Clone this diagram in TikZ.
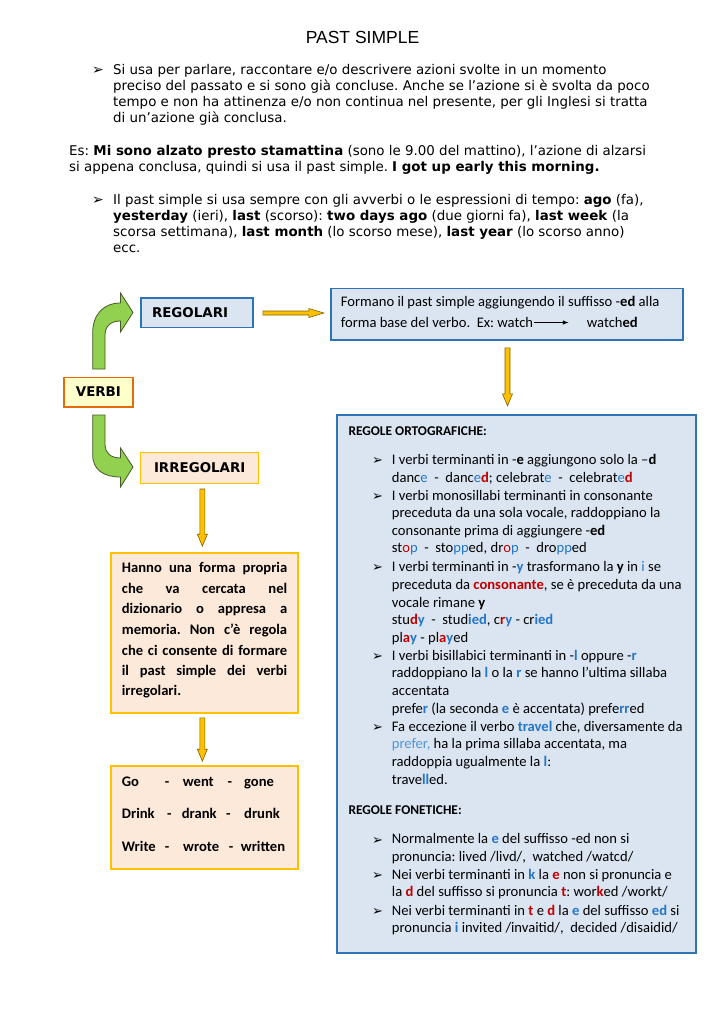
\documentclass[tikz,border=0pt]{standalone}
\usepackage{fontspec}
\setmainfont{Carlito}
\newfontfamily\vfont{DejaVu Sans}
\newfontfamily\afont{Liberation Sans}
\usetikzlibrary{calc,arrows.meta}
\frenchspacing
\definecolor{boxblue}{RGB}{219,229,241}
\definecolor{borderblue}{RGB}{46,116,181}
\definecolor{peach}{RGB}{253,233,217}
\definecolor{gold}{RGB}{255,192,0}
\definecolor{golddark}{RGB}{127,96,0}
\definecolor{lightyel}{RGB}{255,255,204}
\definecolor{orangeb}{RGB}{227,108,10}
\definecolor{greenf}{RGB}{146,208,80}
\definecolor{greend}{RGB}{70,90,40}
\definecolor{tb}{RGB}{36,118,200}
\definecolor{tl}{RGB}{80,150,215}
\definecolor{tr}{RGB}{192,0,0}
\newcommand\BLr[1]{\textcolor{tb}{#1}}
\newcommand\BLb[1]{\textcolor{tb}{\bfseries #1}}
\newcommand\REr[1]{\textcolor{tr}{#1}}
\newcommand\REb[1]{\textcolor{tr}{\bfseries #1}}
\newcommand\ydown[2]{\filldraw[yarr] ($(#1)+(-2.5,0)$) -- ($(#2)+(-2.5,-12)$) -- ($(#2)+(-5,-12)$) -- (#2) -- ($(#2)+(5,-12)$) -- ($(#2)+(2.5,-12)$) -- ($(#1)+(2.5,0)$) -- cycle;}
\begin{document}
\begin{tikzpicture}[x=1pt,y=-1pt,
  toptxt/.style={anchor=base west,inner sep=0pt,font=\vfont\fontsize{13.4}{16}\selectfont},
  caltxt/.style={anchor=base west,inner sep=0pt,font=\fontsize{14.6}{17.7}\selectfont},
  hdtxt/.style={anchor=base west,inner sep=0pt,font=\fontsize{13.4}{16}\selectfont\bfseries},
  lefttxt/.style={anchor=base west,inner sep=0pt,font=\fontsize{14.6}{17.7}\selectfont\bfseries},
  bul/.style={anchor=base west,inner sep=0pt,font=\vfont\fontsize{14}{14}\selectfont},
  bulb/.style={anchor=base west,inner sep=0pt,font=\vfont\fontsize{13}{13}\selectfont},
  lbl/.style={font=\vfont\fontsize{13.4}{16}\selectfont\bfseries,inner sep=0pt},
  bluebox/.style={draw=borderblue,fill=boxblue,line width=1.6pt},
  peachbox/.style={draw=gold,fill=peach,line width=1.6pt},
  yarr/.style={fill=gold,draw=golddark,line width=0.6pt,line join=miter},
  garr/.style={fill=greenf,draw=greend,line width=0.8pt},
]
\useasboundingbox[fill=white] (0,0) rectangle (725,1024);

% ---------- title and intro ----------
\node[anchor=base,inner sep=0pt,font=\afont\fontsize{17.5}{20}\selectfont] (title) at (362.5,43.3) {PAST SIMPLE};

\node[bul] (b1) at (92,75) {➢};
\node[toptxt] (t1) at (113,74.7) {Si usa per parlare, raccontare e/o descrivere azioni svolte in un momento};
\node[toptxt] (t2) at (113,90.7) {preciso del passato e si sono già concluse. Anche se l’azione si è svolta da poco};
\node[toptxt] (t3) at (113,106.7) {tempo e non ha attinenza e/o non continua nel presente, per gli Inglesi si tratta};
\node[toptxt] (t4) at (113,122.7) {di un’azione già conclusa.};

\node[toptxt] (e1) at (69,155.7) {Es: \textbf{Mi sono alzato presto stamattina} (sono le 9.00 del mattino), l’azione di alzarsi};
\node[toptxt] (e2) at (69,171.7) {si appena conclusa, quindi si usa il past simple. \textbf{I got up early this morning.}};

\node[bul] (b2) at (92,205) {➢};
\node[toptxt] (u1) at (113,204.7) {Il past simple si usa sempre con gli avverbi o le espressioni di tempo: \textbf{ago} (fa),};
\node[toptxt] (u2) at (113,220.7) {\textbf{yesterday} (ieri), \textbf{last} (scorso): \textbf{two days ago} (due giorni fa), \textbf{last week} (la};
\node[toptxt] (u3) at (113,236.7) {scorsa settimana), \textbf{last month} (lo scorso mese), \textbf{last year} (lo scorso anno)};
\node[toptxt] (u4) at (113,252.7) {ecc.};

% ---------- left diagram ----------
\node[draw=orangeb,fill=lightyel,line width=1.6pt,minimum width=68.7pt,minimum height=29.4pt,lbl] (verbi) at (98.4,392) {VERBI};
\node[bluebox,lbl,minimum height=29.6pt,text width=90pt,align=left,inner xsep=11pt] (reg) at (197,312.5) {REGOLARI};
\node[draw=gold,fill=peach,line width=1.4pt,lbl,minimum width=118pt,minimum height=30.6pt] (irr) at (199.7,468) {IRREGOLARI};

% green bent arrows
\filldraw[garr] (92.7,369) -- (92.7,333) .. controls (92.7,314) and (104,303) .. (120.5,303) -- (120.5,293) -- (133,312.5) -- (120.5,332) -- (120.5,321) .. controls (111,321) and (105,326) .. (105,335) -- (105,369) -- cycle;
\filldraw[garr] (92.7,415) -- (92.7,455) .. controls (92.7,470) and (104,477) .. (120.5,477) -- (120.5,487) -- (133,467) -- (120.5,448) -- (120.5,458) .. controls (110,458) and (105,452) .. (105,445) -- (105,415) -- cycle;

% Formano box
\node[bluebox,minimum width=352pt,minimum height=51.7pt] (form) at (506.7,314.2) {};
\node[caltxt] (f1) at (340.7,306.8) {Formano il past simple aggiungendo il suffisso -\textbf{ed} alla};
\node[caltxt] (f2) at (340.7,327.8) {forma base del verbo.~ Ex: watch};
\node[caltxt] (f3) at (586.7,327.8) {watch\textbf{ed}};
\coordinate (wa) at ($(f2.base east)+(0.5,-5.3)$);
\coordinate (wb) at ($(wa)+(35,0)$);
\draw[line width=0.9pt,-{Latex[length=6pt,width=4.5pt]}] (wa) -- (wb);

% yellow arrow regolari -> formano
\coordinate (ra) at ($(reg.east)+(9,0.5)$);
\coordinate (rb) at ($(reg.east)+(70,0.5)$);
\filldraw[yarr] ($(ra)+(0,-2)$) -- ($(rb)+(-15,-2)$) -- ($(rb)+(-15,-4.5)$) -- (rb) -- ($(rb)+(-15,4.5)$) -- ($(rb)+(-15,2)$) -- ($(ra)+(0,2)$) -- cycle;

% big rules box
\node[bluebox,minimum width=359pt,minimum height=538pt,line width=2pt] (rules) at (516.5,684) {};
\coordinate (da) at ($(form.south)+(0.8,7)$);
\coordinate (db) at ($(form.south)+(0.8,65)$);
\ydown{da}{db}

\node[hdtxt] (h1) at (348.3,435) {REGOLE ORTOGRAFICHE:};
\node[bulb] (ob1) at (372,464.8) {➢};
\node[caltxt] (o1) at (391.7,464.5) {I verbi terminanti in -\textbf{e} aggiungono solo la –\textbf{d}};
\node[caltxt] (o2) at (391.7,482.2) {danc\BLr{e}~~-~~danc\BLr{e}\REb{d}; celebrat\BLr{e}~~-~~celebrat\BLr{e}\REb{d}};
\node[bulb] (ob2) at (372,500.5) {➢};
\node[caltxt] (o3) at (391.7,500.2) {I verbi monosillabi terminanti in consonante};
\node[caltxt] (o4) at (391.7,517.8) {preceduta da una sola vocale, raddoppiano la};
\node[caltxt] (o5) at (391.7,535.5) {consonante prima di aggiungere -\textbf{ed}};
\node[caltxt] (o6) at (391.7,552.8) {st\REr{o}\BLr{p}~~-~~sto\BLr{pp}ed, dr\REr{o}\BLr{p}~~-~~dro\BLr{pp}ed};
\node[bulb] (ob3) at (372,571.5) {➢};
\node[caltxt] (o7) at (391.7,571.2) {I verbi terminanti in -\BLb{y} trasformano la \textbf{y} in \BLr{i} se};
\node[caltxt] (o8) at (391.7,589.2) {preceduta da \REb{consonante}, se è preceduta da una};
\node[caltxt] (o9) at (391.7,607.2) {vocale rimane \textbf{y}};
\node[caltxt] (o10) at (391.7,624.5) {stu\REb{d}\BLb{y}~~-~~stud\BLb{ied}, c\REb{r}\BLb{y} - cr\BLb{ied}};
\node[caltxt] (o11) at (391.7,642.2) {pl\REb{a}\BLb{y} - pl\REb{a}\BLb{y}ed};
\node[bulb] (ob4) at (372,660.5) {➢};
\node[caltxt] (o12) at (391.7,660.2) {I verbi bisillabici terminanti in -\BLb{l} oppure -\BLb{r}};
\node[caltxt] (o13) at (391.7,677.8) {raddoppiano la \BLb{l} o la \BLb{r} se hanno l’ultima sillaba};
\node[caltxt] (o14) at (391.7,695.5) {accentata};
\node[caltxt] (o15) at (391.7,713.5) {prefe\BLb{r} (la seconda \BLb{e} è accentata) prefe\BLb{rr}ed};
\node[bulb] (ob5) at (372,731.5) {➢};
\node[caltxt] (o16) at (391.7,731.2) {Fa eccezione il verbo \BLb{travel} che, diversamente da};
\node[caltxt] (o17) at (391.7,748.8) {\textcolor{tl}{prefer,} ha la prima sillaba accentata, ma};
\node[caltxt] (o18) at (391.7,766.8) {raddoppia ugualmente la \BLb{l}:};
\node[caltxt] (o19) at (391.7,784.5) {trave\BLb{ll}ed.};

\node[hdtxt] (h2) at (348.3,814.3) {REGOLE FONETICHE:};
\node[bulb] (fb1) at (372,844.1) {➢};
\node[caltxt] (p1) at (391.7,843.8) {Normalmente la \BLb{e} del suffisso -ed non si};
\node[caltxt] (p2) at (391.7,861.2) {pronuncia: lived /livd/,~ watched /watcd/};
\node[bulb] (fb2) at (372,879.8) {➢};
\node[caltxt] (p3) at (391.7,879.5) {Nei verbi terminanti in \BLb{k} la \REb{e} non si pronuncia e};
\node[caltxt] (p4) at (391.7,896.8) {la \REb{d} del suffisso si pronuncia \REb{t}: wor\REb{k}ed /workt/};
\node[bulb] (fb3) at (372,915.5) {➢};
\node[caltxt] (p5) at (391.7,915.2) {Nei verbi terminanti in \REb{t} e \REb{d} la \BLb{e} del suffisso \BLb{ed} si};
\node[caltxt] (p6) at (391.7,932.5) {pronuncia \BLb{i} invited /invaitid/,~ decided /disaidid/};

% irregular branch
\node[peachbox,minimum width=187.3pt,minimum height=160pt] (hanno) at (204.35,633) {};
\node[peachbox,minimum width=187.3pt,minimum height=103pt] (go) at (204.35,817.5) {};
\coordinate (ia) at ($(irr.south -| hanno.north)+(-2,5)$);
\coordinate (ib) at ($(hanno.north)+(-2,-6)$);
\ydown{ia}{ib}
\coordinate (ha) at ($(hanno.south)+(-2,4)$);
\coordinate (hb) at ($(go.north)+(-2,-4)$);
\ydown{ha}{hb}

\node[lefttxt] (k1) at (121.7,572.8) {\makebox[165.3pt][s]{Hanno una forma propria}};
\node[lefttxt] (k2) at (121.7,593.8) {\makebox[165.3pt][s]{che va cercata nel}};
\node[lefttxt] (k3) at (121.7,613.8) {\makebox[165.3pt][s]{dizionario o appresa a}};
\node[lefttxt] (k4) at (121.7,634.5) {\makebox[165.3pt][s]{memoria. Non c’è regola}};
\node[lefttxt] (k5) at (121.7,655.2) {\makebox[165.3pt][s]{che ci consente di formare}};
\node[lefttxt] (k6) at (121.7,675.2) {\makebox[165.3pt][s]{il past simple dei verbi}};
\node[lefttxt] (k7) at (121.7,695.2) {irregolari.};

\node[lefttxt] (g1) at (121.7,786.2) {\makebox[43pt][l]{Go}\makebox[18pt][l]{-}\makebox[44.8pt][l]{went}\makebox[16.5pt][l]{-}gone};
\node[lefttxt] (g2) at (121.7,818.5) {\makebox[45.3pt][l]{Drink}\makebox[14.7pt][l]{-}\makebox[44.3pt][l]{drank}\makebox[18pt][l]{-}drunk};
\node[lefttxt] (g3) at (121.7,851.2) {\makebox[43pt][l]{Write}\makebox[18.3pt][l]{-}\makebox[45.7pt][l]{wrote}\makebox[12pt][l]{-}written};
\end{tikzpicture}
\end{document}
